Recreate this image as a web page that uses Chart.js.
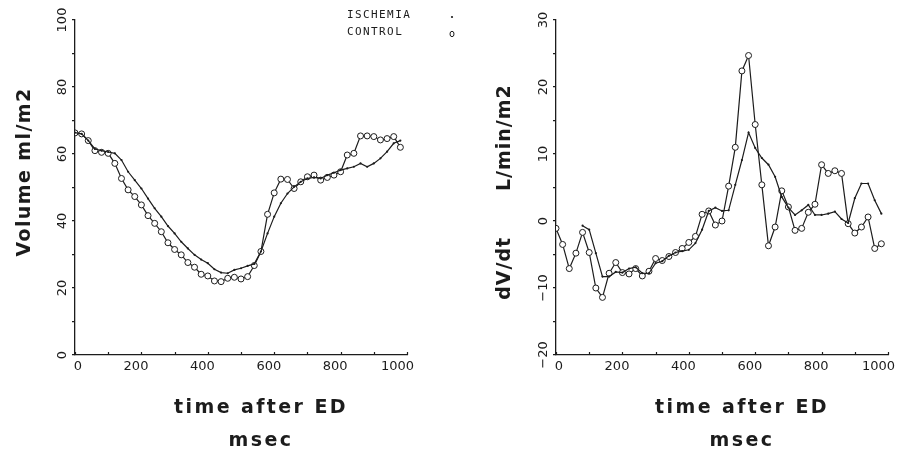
<!DOCTYPE html>
<html>
<head>
<meta charset="utf-8">
<script src="https://cdn.jsdelivr.net/npm/chart.js@4.4.1/dist/chart.umd.min.js"></script>
<style>
  html, body { margin: 0; padding: 0; background: #fff; overflow: hidden; width: 898px; height: 449px; }
  canvas { position: absolute; top: 0; }
  #volumeChart { left: 0; }
  #flowChart { left: 465px; }
</style>
</head>
<body>
<canvas id="volumeChart" width="465" height="460"></canvas>
<canvas id="flowChart" width="450" height="460"></canvas>
<script>
// sample times, msec after ED
const timeMs = [
    0, 20, 40, 60, 80, 100, 120, 140, 160, 180,
    200, 220, 240, 260, 280, 300, 320, 340, 360, 380,
    400, 420, 440, 460, 480, 500, 520, 540, 560, 580,
    600, 620, 640, 660, 680, 700, 720, 740, 760, 780,
    800, 820, 840, 860, 880, 900, 920, 940, 960, 980
];

// Volume ml/m2
const volumeControl = [
    66.3, 66.0, 64.0, 61.0, 60.5, 60.2, 57.2, 52.7, 49.3, 47.3,
    44.8, 41.6, 39.3, 36.8, 33.5, 31.5, 29.9, 27.6, 26.2, 24.1,
    23.6, 22.1, 21.9, 22.9, 23.2, 22.7, 23.4, 26.7, 30.9, 42.0,
    48.4, 52.5, 52.4, 49.7, 51.7, 53.2, 53.7, 52.2, 53.0, 53.7,
    54.7, 59.7, 60.2, 65.4, 65.4, 65.2, 64.2, 64.6, 65.2, 62.0
];
const volumeIschemia = [
    66.4, 66.0, 64.0, 61.5, 61.0, 60.6, 60.2, 58.2, 54.7, 52.2,
    49.7, 46.7, 43.8, 41.3, 38.5, 36.3, 33.8, 31.8, 29.9, 28.5,
    27.4, 25.6, 24.6, 24.4, 25.4, 25.9, 26.6, 27.2, 30.9, 36.3,
    41.3, 45.3, 48.2, 50.2, 51.7, 52.7, 53.0, 52.7, 53.7, 54.4,
    55.2, 55.7, 56.2, 57.2, 56.2, 57.2, 58.7, 60.7, 63.2, 64.0
];

// dV/dt L/min/m2
const flowControl = [
    -1.1, -3.5, -7.1, -4.8, -1.7, -4.7, -10.0, -11.4, -7.8, -6.2,
    -7.7, -7.9, -7.1, -8.2, -7.5, -5.6, -5.9, -5.3, -4.7, -4.1,
    -3.2, -2.3, 1.0, 1.5, -0.6, 0.0, 5.2, 11.0, 22.4, 24.7,
    14.4, 5.4, -3.7, -0.9, 4.5, 2.1, -1.4, -1.1, 1.3, 2.5,
    8.4, 7.1, 7.5, 7.1, -0.4, -1.8, -0.9, 0.6, -4.1, -3.4
];
const flowIschemia = [
    null, null, null, null, -0.7, -1.3, -4.8, -8.3, -8.3, -7.6,
    -7.7, -7.1, -6.9, -7.8, -7.8, -6.3, -6.0, -5.2, -4.7, -4.5,
    -4.3, -3.3, -1.3, 1.5, 2.0, 1.5, 1.6, 5.4, 9.1, 13.2,
    10.9, 9.4, 8.4, 6.6, 3.6, 2.0, 0.9, 1.6, 2.4, 0.9,
    0.9, 1.1, 1.4, 0.3, -0.3, 3.4, 5.6, 5.6, 3.1, 1.1
];

// tick labels
const timeTickLabels = [0, 200, 400, 600, 800, 1000];
const volumeTickLabels = [0, 20, 40, 60, 80, 100];
const flowTickLabels = [-20, -10, 0, 10, 20, 30];

const ink = '#1c1c1c';
const titleFontCss = 'bold 19px "DejaVu Sans", sans-serif';

function fmt(value) {
    return value < 0 ? '\u2212' + Math.abs(value) : String(value);
}

function toPoints(values) {
    return timeMs.map((t, i) => ({ x: t, y: values[i] }));
}

function makeDatasets(ischemia, control) {
    return [
        {
            label: 'ISCHEMIA',
            data: toPoints(ischemia),
            borderColor: ink,
            borderWidth: 1.2,
            pointRadius: 1.1,
            pointBackgroundColor: ink,
            pointBorderWidth: 0,
            tension: 0
        },
        {
            label: 'CONTROL',
            data: toPoints(control),
            borderColor: ink,
            borderWidth: 1.2,
            pointRadius: 3,
            pointBackgroundColor: '#fff',
            pointBorderColor: ink,
            pointBorderWidth: 1,
            tension: 0
        }
    ];
}

// Plotter-style legend in the top corner
const plotterLegend = {
    id: 'plotterLegend',
    afterDraw(chart) {
        if (!chart.options.plugins.plotterLegend.show) return;
        const ctx = chart.ctx;
        ctx.save();
        ctx.font = '11px "DejaVu Sans Mono", monospace';
        ctx.letterSpacing = '1.4px';
        ctx.fillStyle = ink;
        ctx.textBaseline = 'middle';
        chart.data.datasets.forEach((ds, i) => {
            const y = 15 + i * 17;
            ctx.fillText(ds.label, 347, y);
            ctx.beginPath();
            if (ds.pointRadius > 2) {
                ctx.ellipse(452, y + 2, 2, 2.7, 0, 0, Math.PI * 2);
                ctx.strokeStyle = ink;
                ctx.lineWidth = 1;
                ctx.stroke();
            } else {
                ctx.arc(452, y + 2, 1.1, 0, Math.PI * 2);
                ctx.fill();
            }
        });
        ctx.restore();
    }
};

// Tick labels and axis titles the way the plotter drew them
const plotterAxes = {
    id: 'plotterAxes',
    afterDraw(chart) {
        const opts = chart.options.plugins.plotterAxes;
        const xs = chart.scales.x, ys = chart.scales.y;
        const ctx = chart.ctx;
        ctx.save();
        // x tick marks point into the plot
        ctx.strokeStyle = ink;
        ctx.lineWidth = 1.2;
        xs.ticks.forEach(t => {
            const px = Math.round(xs.getPixelForValue(t.value)) + 0.5;
            ctx.beginPath();
            ctx.moveTo(px, xs.top);
            ctx.lineTo(px, xs.top - 3);
            ctx.stroke();
        });
        // tick labels
        ctx.font = '13px "DejaVu Sans", sans-serif';
        ctx.fillStyle = ink;
        ctx.textAlign = 'right';
        ctx.textBaseline = 'middle';
        opts.xLabels.forEach(v => {
            ctx.fillText(fmt(v), xs.getPixelForValue(v) + 7, xs.top + 12);
        });
        ctx.textAlign = 'center';
        opts.yLabels.forEach(v => {
            ctx.save();
            ctx.translate(ys.right - 12, ys.getPixelForValue(v));
            ctx.rotate(-Math.PI / 2);
            ctx.fillText(fmt(v), 0, 0);
            ctx.restore();
        });
        // axis titles
        ctx.font = titleFontCss;
        ctx.letterSpacing = '2.4px';
        const cx = (xs.left + xs.right) / 2 + 20;
        opts.xTitle.forEach((line, i) => {
            ctx.fillText(line, cx, 408 + i * 33);
        });
        ctx.letterSpacing = opts.yTitleSpacing;
        ctx.save();
        ctx.translate(opts.yTitleX, opts.yTitleY);
        ctx.rotate(-Math.PI / 2);
        ctx.fillText(opts.yTitle, 0, 0);
        ctx.restore();
        ctx.restore();
    }
};

function makeOptions(cfg) {
    return {
        responsive: false,
        animation: false,
        devicePixelRatio: 1,
        layout: { padding: { left: 0, right: cfg.padRight, top: 20, bottom: 0 } },
        plugins: {
            legend: { display: false },
            tooltip: { enabled: false },
            plotterLegend: { show: cfg.showLegend },
            plotterAxes: {
                xLabels: timeTickLabels,
                yLabels: cfg.yLabels,
                xTitle: ['time after ED', 'msec'],
                yTitle: cfg.yTitle,
                yTitleX: cfg.yTitleX,
                yTitleY: cfg.yTitleY,
                yTitleSpacing: cfg.yTitleSpacing
            }
        },
        scales: {
            x: {
                type: 'linear',
                min: 0,
                max: 1000,
                ticks: { stepSize: 100, autoSkip: false, display: false },
                grid: { drawOnChartArea: false, drawTicks: false },
                border: { display: true, color: ink, width: 1.3 },
                afterFit: s => { s.height = 105; }
            },
            y: {
                min: cfg.yMin,
                max: cfg.yMax,
                ticks: { stepSize: cfg.yStep, autoSkip: false, display: false },
                grid: { drawOnChartArea: false, drawTicks: true, tickLength: 3, color: ink, lineWidth: 1.2 },
                border: { display: true, color: ink, width: 1.3 },
                afterFit: s => { s.width = cfg.yWidth; }
            }
        }
    };
}

new Chart(document.getElementById('volumeChart'), {
    type: 'line',
    data: { datasets: makeDatasets(volumeIschemia, volumeControl) },
    options: makeOptions({
        yMin: 0, yMax: 100, yStep: 10, yLabels: volumeTickLabels,
        yTitle: 'Volume ml/m2', yTitleX: 25, yTitleY: 172, yTitleSpacing: '1.4px',
        yWidth: 75, padRight: 58, showLegend: true
    }),
    plugins: [plotterLegend, plotterAxes]
});

new Chart(document.getElementById('flowChart'), {
    type: 'line',
    data: { datasets: makeDatasets(flowIschemia, flowControl) },
    options: makeOptions({
        yMin: -20, yMax: 30, yStep: 5, yLabels: flowTickLabels,
        yTitle: 'dV/dt      L/min/m2', yTitleX: 40, yTitleY: 192, yTitleSpacing: '1px',
        yWidth: 91, padRight: 27, showLegend: false
    }),
    plugins: [plotterLegend, plotterAxes]
});
</script>
</body>
</html>
